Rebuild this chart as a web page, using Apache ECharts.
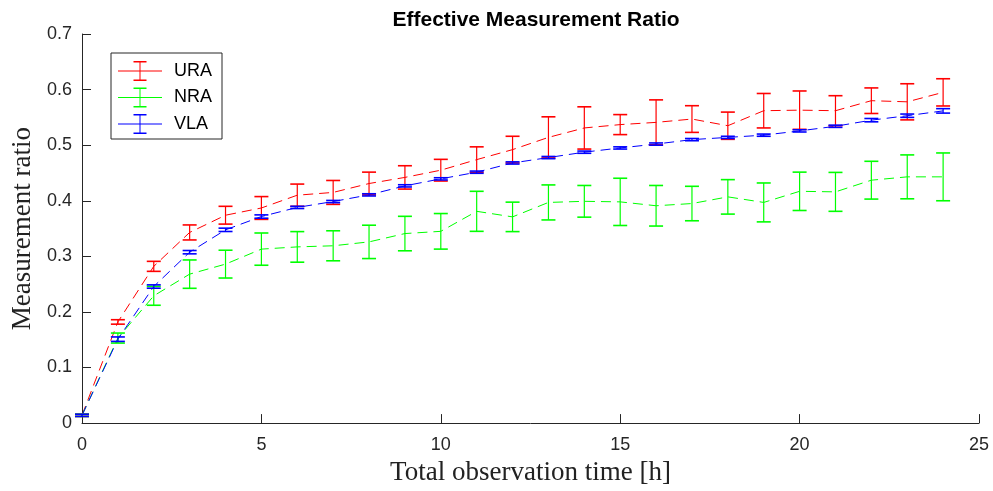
<!DOCTYPE html>
<html>
<head>
<meta charset="utf-8">
<script src="https://cdn.jsdelivr.net/npm/echarts@6/dist/echarts.min.js"></script>
<style>
html,body{margin:0;padding:0;background:#fff;}
#chart{width:993px;height:491px;}
</style>
</head>
<body>
<div id="chart"></div>
<script>
// ---- data ----
const hours = [0,1,2,3,4,5,6,7,8,9,10,11,12,13,14,15,16,17,18,19,20,21,22,23,24];
const uraMean = [0.014,0.182,0.282,0.343,0.374,0.387,0.410,0.415,0.431,0.442,0.455,0.474,0.492,0.514,0.531,0.537,0.541,0.547,0.535,0.562,0.563,0.562,0.580,0.578,0.595];
const uraErr  = [0.002,0.004,0.009,0.0135,0.016,0.0205,0.020,0.0215,0.0205,0.021,0.0195,0.023,0.024,0.037,0.038,0.018,0.0405,0.024,0.0245,0.031,0.0345,0.027,0.023,0.0325,0.0245];
const nraMean = [0.014,0.153,0.229,0.268,0.286,0.313,0.317,0.319,0.326,0.341,0.345,0.381,0.371,0.397,0.399,0.398,0.391,0.395,0.407,0.397,0.417,0.416,0.437,0.443,0.443];
const nraErr  = [0.002,0.009,0.017,0.0255,0.025,0.029,0.0275,0.027,0.030,0.031,0.032,0.036,0.0265,0.0315,0.0285,0.0425,0.0365,0.031,0.031,0.035,0.0345,0.035,0.034,0.0395,0.043];
const vlaMean = [0.014,0.151,0.2457,0.3075,0.3477,0.3716,0.388,0.3986,0.4106,0.4268,0.4394,0.4514,0.468,0.4777,0.4874,0.495,0.502,0.510,0.514,0.518,0.5257,0.534,0.545,0.553,0.5617];
const vlaErr  = [0.002,0.004,0.003,0.003,0.003,0.003,0.002,0.002,0.002,0.002,0.002,0.002,0.002,0.002,0.002,0.002,0.002,0.002,0.002,0.002,0.002,0.002,0.003,0.003,0.004];
const seriesNames = ['URA','NRA','VLA'];
const seriesColors = ['#ff0000','#00ff00','#0000ff'];
const xTicks = {min:0, max:25, interval:5};
const yTicks = {min:0, max:0.7, interval:0.1};

const means = [uraMean, nraMean, vlaMean];
const errs = [uraErr, nraErr, vlaErr];

const legendIcon = 'path://M0 9.5H44V10.5H0Z M21.5 0H22.5V20H21.5Z M15.5 0H28.5V1.5H15.5Z M15.5 18.5H28.5V20H15.5Z';

const series = [];
seriesNames.forEach((name, i) => {
  series.push({
    name: name,
    type: 'line',
    data: hours.map((h, k) => [h, means[i][k]]),
    showSymbol: false,
    symbol: 'none',
    lineStyle: {color: seriesColors[i], width: 1, type: [10, 6]},
    itemStyle: {color: seriesColors[i]},
    z: 2,
    animation: false
  });
});
seriesNames.forEach((name, i) => {
  series.push({
    name: name,
    type: 'custom',
    data: hours.map((h, k) => [h, means[i][k] - errs[i][k], means[i][k] + errs[i][k]]),
    itemStyle: {color: seriesColors[i]},
    encode: {x: 0, y: [1, 2]},
    z: 3,
    animation: false,
    renderItem: function (params, api) {
      const lo = api.coord([api.value(0), api.value(1)]);
      const hi = api.coord([api.value(0), api.value(2)]);
      const hw = 7;
      const c = seriesColors[i];
      return {
        type: 'group',
        children: [
          {type: 'line', shape: {x1: lo[0], y1: lo[1], x2: hi[0], y2: hi[1]}, style: {stroke: c, lineWidth: 1.2}},
          {type: 'line', shape: {x1: lo[0]-hw, y1: lo[1], x2: lo[0]+hw, y2: lo[1]}, style: {stroke: c, lineWidth: 1.6}},
          {type: 'line', shape: {x1: hi[0]-hw, y1: hi[1], x2: hi[0]+hw, y2: hi[1]}, style: {stroke: c, lineWidth: 1.6}}
        ]
      };
    }
  });
});

const axisColor = '#262626';
const chart = echarts.init(document.getElementById('chart'), null, {renderer: 'canvas'});
chart.setOption({
  animation: false,
  backgroundColor: '#ffffff',
  title: {
    text: 'Effective Measurement Ratio',
    left: 531,
    textAlign: 'center',
    top: 5,
    textStyle: {fontFamily: 'Liberation Sans', fontWeight: 'bold', fontSize: 21, color: '#000'}
  },
  legend: {
    left: 111,
    top: 53,
    orient: 'vertical',
    data: seriesNames.map(n => ({name: n, icon: legendIcon})),
    itemWidth: 44,
    itemHeight: 20,
    itemGap: 6.5,
    itemTextGap: 12,
    padding: [8, 10, 5, 7],
    borderColor: axisColor,
    borderWidth: 1,
    backgroundColor: '#fff',
    textStyle: {fontFamily: 'Liberation Sans', fontSize: 18, color: '#000', padding: [0, 0, 0, 7]},
    selectedMode: false
  },
  grid: {left: 82, right: 14, top: 34, bottom: 67, containLabel: false},
  xAxis: {
    type: 'value',
    min: xTicks.min, max: xTicks.max, interval: xTicks.interval,
    name: 'Total observation time [h]',
    nameLocation: 'middle',
    nameGap: 34,
    nameTextStyle: {fontFamily: 'Liberation Serif', fontSize: 27, color: '#222'},
    axisLine: {lineStyle: {color: axisColor, width: 1}},
    axisTick: {inside: true, length: 9, lineStyle: {color: axisColor}},
    axisLabel: {fontFamily: 'Liberation Sans', fontSize: 18, color: '#262626', margin: 13},
    splitLine: {show: false}
  },
  yAxis: {
    type: 'value',
    min: yTicks.min, max: yTicks.max, interval: yTicks.interval,
    name: 'Measurement ratio',
    nameLocation: 'middle',
    nameRotate: 90,
    nameGap: 46,
    nameTextStyle: {fontFamily: 'Liberation Serif', fontSize: 27, color: '#222'},
    axisLine: {show: true, lineStyle: {color: axisColor, width: 1}},
    axisTick: {show: true, inside: true, length: 9, lineStyle: {color: axisColor}},
    axisLabel: {fontFamily: 'Liberation Sans', fontSize: 18, color: '#262626', margin: 10, padding: [4, 0, 0, 0]},
    splitLine: {show: false}
  },
  series: series
});
</script>
</body>
</html>
